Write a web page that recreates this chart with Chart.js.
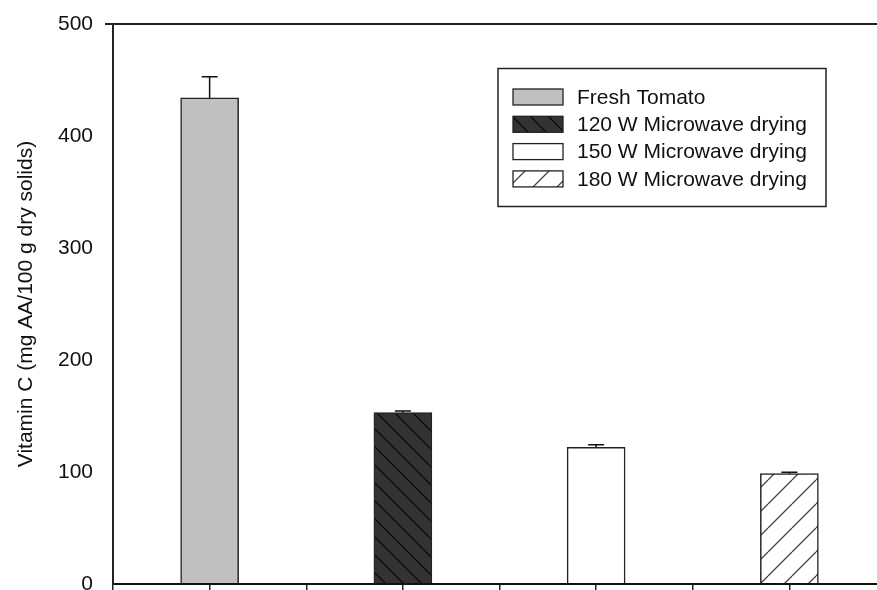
<!DOCTYPE html>
<html>
<head>
<meta charset="utf-8">
<script src="https://cdn.jsdelivr.net/npm/chart.js@4/dist/chart.umd.min.js"></script>
<style>
  html, body { margin: 0; padding: 0; background: #fff; overflow: hidden; }
  #wrap { width: 900px; height: 590px; position: relative; }
</style>
</head>
<body>
<div id="wrap"><canvas id="vitCChart"></canvas></div>
<script>
// data
const categories = ['Fresh Tomato', '120 W Microwave drying', '150 W Microwave drying', '180 W Microwave drying'];
const vitaminC = [434, 153, 122, 98.5];
const errors = [19, 1.5, 2.4, 1.2];
const yTicks = [0, 100, 200, 300, 400, 500];

const FONT = '"Liberation Sans", Arial, Helvetica, sans-serif';

function hatch(bg, line, size, dir) {
    const c = document.createElement('canvas');
    c.width = size; c.height = size;
    const g = c.getContext('2d');
    g.fillStyle = bg;
    g.fillRect(0, 0, size, size);
    g.strokeStyle = line;
    g.lineWidth = 1.3;
    g.beginPath();
    for (let k = -1; k <= 1; k++) {
        if (dir === 'back') {
            g.moveTo(k * size, 0); g.lineTo(k * size + size, size);
        } else {
            g.moveTo(k * size, size); g.lineTo(k * size + size, 0);
        }
    }
    g.stroke();
    return g.createPattern(c, 'repeat');
}

const fills = [
    '#c0c0c0',
    hatch('#333333', '#0a0a0a', 18, 'back'),
    '#ffffff',
    hatch('#ffffff', '#444444', 24, 'fwd')
];

const errorBars = {
    id: 'errorBars',
    afterDatasetsDraw(chart) {
        const ctx = chart.ctx;
        const y = chart.scales.y;
        ctx.save();
        ctx.strokeStyle = '#111';
        ctx.lineWidth = 1.5;
        chart.data.datasets.forEach((ds, i) => {
            const bar = chart.getDatasetMeta(i).data[0];
            const top = y.getPixelForValue(ds.data[0].y + errors[i]);
            ctx.beginPath();
            ctx.moveTo(bar.x, bar.y);
            ctx.lineTo(bar.x, top);
            ctx.moveTo(bar.x - 8, top);
            ctx.lineTo(bar.x + 8, top);
            ctx.stroke();
        });
        ctx.restore();
    }
};

const boxLegend = {
    id: 'boxLegend',
    afterDraw(chart) {
        const ctx = chart.ctx;
        ctx.save();
        ctx.lineWidth = 1.5;
        ctx.strokeStyle = '#222';
        ctx.strokeRect(498, 68.5, 328, 138);
        ctx.font = '21px ' + FONT;
        ctx.textBaseline = 'middle';
        chart.data.datasets.forEach((ds, i) => {
            const cy = 97 + i * 27.3;
            ctx.fillStyle = ds.backgroundColor;
            ctx.fillRect(513, cy - 8, 50, 16);
            ctx.lineWidth = 1.3;
            ctx.strokeStyle = '#222';
            ctx.strokeRect(513, cy - 8, 50, 16);
            ctx.fillStyle = '#111';
            ctx.fillText(ds.label, 577, cy + 1);
        });
        ctx.restore();
    }
};

new Chart(document.getElementById('vitCChart').getContext('2d'), {
    type: 'bar',
    data: {
        datasets: categories.map((name, i) => ({
            label: name,
            data: [{ x: 2 * i + 1, y: vitaminC[i] }],
            backgroundColor: fills[i],
            borderColor: '#222',
            borderWidth: 1.5,
            barThickness: 58,
            grouped: false
        }))
    },
    options: {
        responsive: true,
        maintainAspectRatio: false,
        animation: false,
        layout: { autoPadding: false, padding: { left: 0, top: 24, right: 14, bottom: 0 } },
        plugins: {
            legend: { display: false },
            tooltip: { enabled: false }
        },
        scales: {
            x: {
                type: 'linear',
                offset: false,
                min: 0,
                max: 2 * categories.length,
                border: { display: true, color: '#111', width: 2 },
                grid: {
                    offset: false,
                    drawOnChartArea: false,
                    drawTicks: true,
                    tickLength: 6,
                    color: '#222',
                    lineWidth: 1.5
                },
                ticks: { display: false, stepSize: 1 },
                afterFit(scale) { scale.height = 6; }
            },
            y: {
                min: 0,
                max: 500,
                afterBuildTicks(scale) { scale.ticks = yTicks.map(v => ({ value: v })); },
                border: { display: true, color: '#222', width: 2 },
                grid: {
                    drawOnChartArea: true,
                    tickLength: 8,
                    color: ctx => (ctx.tick && ctx.tick.value === 500) ? '#222' : 'rgba(0,0,0,0)',
                    lineWidth: 2
                },
                ticks: {
                    padding: 12,
                    color: '#111',
                    font: { family: FONT, size: 21 }
                },
                title: {
                    display: true,
                    text: 'Vitamin C (mg AA/100 g dry solids)',
                    color: '#111',
                    font: { family: FONT, size: 21 },
                    padding: { top: 14, bottom: 0 }
                },
                afterFit(scale) {
                    scale.width = 113;
                    scale.paddingTop = 0;
                    scale.paddingBottom = 0;
                }
            }
        }
    },
    plugins: [errorBars, boxLegend]
});
</script>
</body>
</html>
